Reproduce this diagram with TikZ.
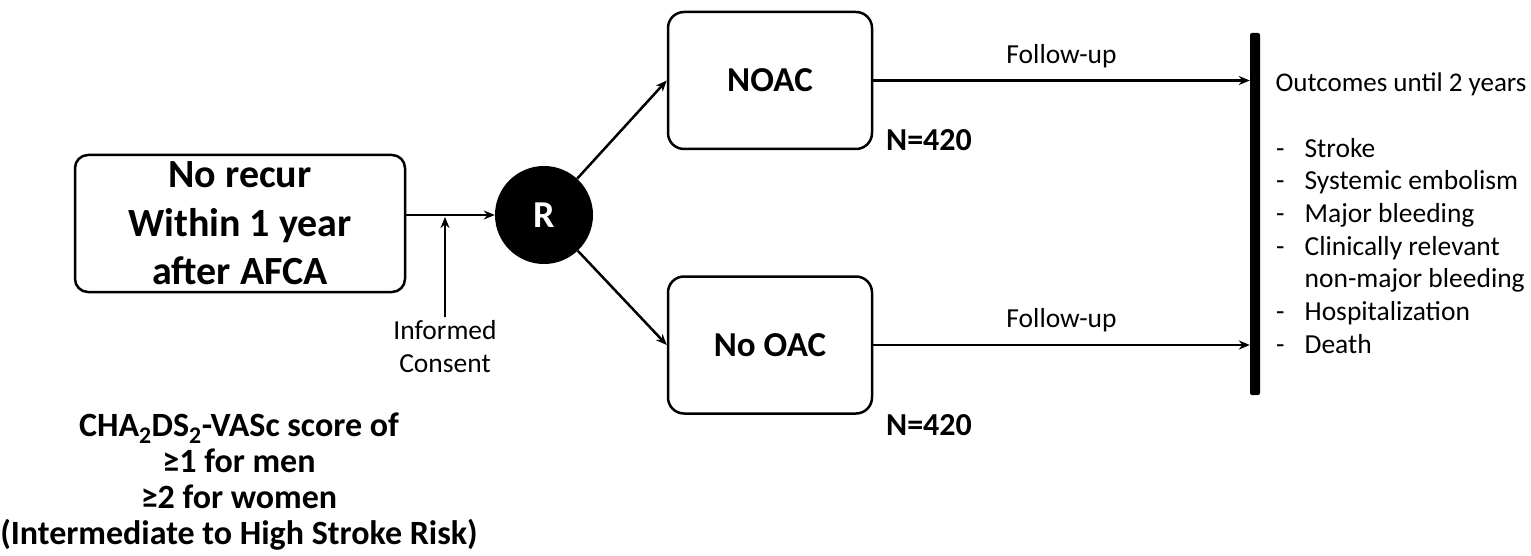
\documentclass[tikz,border=0pt]{standalone}
\usepackage{fontspec}
\setmainfont{Carlito}
\usetikzlibrary{arrows.meta,arrows}
\usetikzlibrary{calc}

\begin{document}
\begin{tikzpicture}[x=1pt,y=-1pt]

\tikzset{line/.style={draw,line width=2.5pt}}
\tikzset{arrow/.style={line,->,>={Stealth[length=11pt,width=9pt]}}}
\tikzset{box/.style={line,rounded corners=16pt,minimum width=204pt,minimum height=137pt,font=\bfseries\fontsize{35}{42}\selectfont}}
\tikzset{note/.style={font=\fontsize{27.5}{33}\selectfont,align=center}}
\tikzset{count/.style={font=\bfseries\fontsize{32}{36}\selectfont}}

\useasboundingbox (0,0) rectangle (1531,556);

\node[box,rounded corners=13pt,minimum width=330pt,align=center,inner sep=0pt,font=\bfseries\fontsize{40}{48.5}\selectfont] (start) at (240,223.5) {No recur\\Within 1 year\\after AFCA};
\node[circle,fill=black,minimum size=98pt,inner sep=0pt,text=white,font=\bfseries\fontsize{38}{40}\selectfont] (R) at (544,215) {R};
\node[note] (consent) at (445,347) {Informed\\Consent};

\node[box] (noac) at (770,80.5) {NOAC};
\node[box] (nooac) at (770,345) {No OAC};
\node[count] (n1) at (929,140) {N=420};
\node[count] (n2) at (929,425) {N=420};

\node[fill=black,minimum width=10pt,minimum height=362pt,inner sep=0pt,rounded corners=2pt] (bar) at (1255,214) {};
\node[note,font=\fontsize{27}{33}\selectfont,anchor=west] (outcomes) at (1272,84) {Outcomes until 2 years};
\node[font=\fontsize{27.5}{32.7}\selectfont,anchor=north west,inner sep=0pt] (list) at (1276,134) {%
  \begin{tabular}{@{}l@{\hspace{20pt}}l@{}}
  - & Stroke\\
  - & Systemic embolism\\
  - & Major bleeding\\
  - & Clinically relevant\\
    & non-major bleeding\\
  - & Hospitalization\\
  - & Death
  \end{tabular}};

\node[font=\bfseries\fontsize{34}{36}\selectfont,align=center] (risk) at (239,482) {CHA\textsubscript{2}DS\textsubscript{2}-VASc score of\\≥1 for men\\≥2 for women\\(Intermediate to High Stroke Risk)};

\path[arrow] (start.east |- R) to (R);
\path[arrow,shorten >=2pt] (consent.north) to (consent.north |- R);
\path[arrow] (R) to (noac.west);
\path[arrow] (R) to (nooac.west);
\path[arrow] (noac.east) to node[note,midway,above=8pt] (fu1) {Follow-up} (noac.east -| bar.west);
\path[arrow] (nooac.east) to node[note,midway,above=8pt] (fu2) {Follow-up} (nooac.east -| bar.west);

\end{tikzpicture}
\end{document}
